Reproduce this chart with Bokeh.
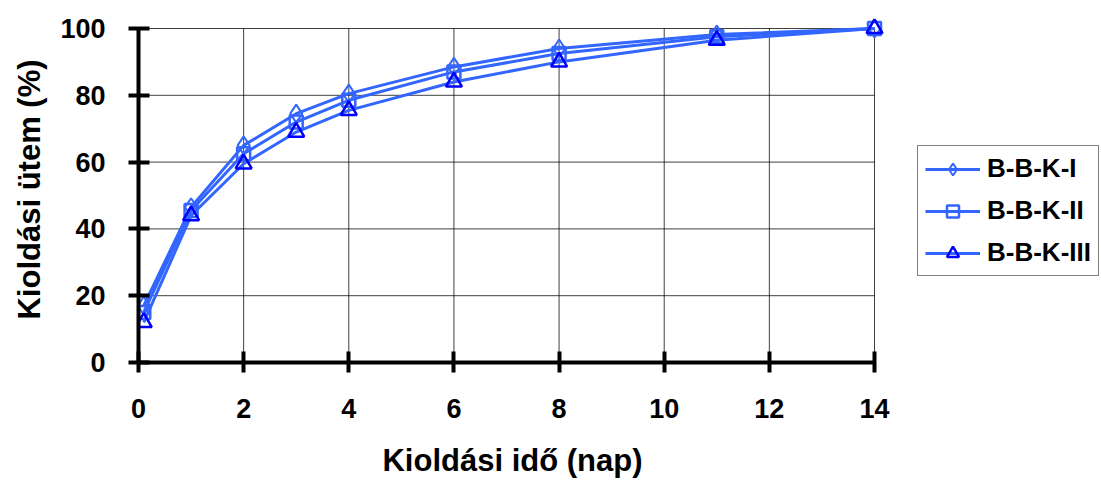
from bokeh.plotting import figure
from bokeh.layouts import row
from bokeh.models import Range1d, FixedTicker, Legend, LegendItem
from bokeh.embed import file_html
from bokeh.resources import INLINE

days = [0.1, 1, 2, 3, 4, 6, 8, 11, 14]
bbk_1 = [17, 46.5, 65, 74.5, 80.5, 88.5, 94, 98.2, 100]
bbk_2 = [15, 45.5, 62.5, 72, 78.5, 87, 92.5, 97.5, 100]
bbk_3 = [12, 44, 59.5, 69, 75.5, 84, 90, 96.5, 100]
series_names = ["B-B-K-I", "B-B-K-II", "B-B-K-III"]
x_ticks = [0, 2, 4, 6, 8, 10, 12, 14]
y_ticks = [0, 20, 40, 60, 80, 100]

FONT = "Liberation Sans"
LINE = "#3366FF"
TRI = "#0000FF"

X_MIN, X_MAX = x_ticks[0], x_ticks[-1]
Y_MIN, Y_MAX = y_ticks[0], y_ticks[-1]
# extra room beyond the last ticks so end markers are not clipped
X_PAD = 12 / (736 / (X_MAX - X_MIN))
Y_PAD = 12 / (334 / (Y_MAX - Y_MIN))

p = figure(width=917, height=484, output_backend="svg", toolbar_location=None,
           x_range=Range1d(X_MIN, X_MAX + X_PAD), y_range=Range1d(Y_MIN, Y_MAX + Y_PAD),
           min_border_left=138, min_border_right=31, min_border_top=16, min_border_bottom=122)
p.outline_line_color = None
p.background_fill_color = "white"
p.xgrid.visible = False
p.ygrid.visible = False

# grid lines limited to the axis extent
p.segment(x0=x_ticks[1:], y0=[Y_MIN] * (len(x_ticks) - 1), x1=x_ticks[1:], y1=[Y_MAX] * (len(x_ticks) - 1),
          line_color="black", line_alpha=0.75, line_width=1)
p.segment(x0=[X_MIN] * (len(y_ticks) - 1), y0=y_ticks[1:], x1=[X_MAX] * (len(y_ticks) - 1), y1=y_ticks[1:],
          line_color="black", line_alpha=0.75, line_width=1)

for ax in (p.xaxis[0], p.yaxis[0]):
    ax.axis_line_width = 4
    ax.axis_line_color = "black"
    ax.major_tick_line_width = 4
    ax.major_tick_line_color = "black"
    ax.major_tick_in = 11
    ax.major_tick_out = 10
    ax.minor_tick_line_color = None
    ax.major_label_text_font = FONT
    ax.major_label_text_font_style = "bold"
    ax.major_label_text_font_size = "27px"
    ax.major_label_text_color = "black"
    ax.axis_label_text_font = FONT
    ax.axis_label_text_font_style = "bold"
    ax.axis_label_text_font_size = "31px"
    ax.axis_label_text_color = "black"

p.xaxis.bounds = (X_MIN, X_MAX)
p.yaxis.bounds = (Y_MIN, Y_MAX)
p.xaxis.ticker = FixedTicker(ticks=x_ticks)
p.yaxis.ticker = FixedTicker(ticks=y_ticks)
p.xaxis.axis_label = "Kioldási idő (nap)"
p.yaxis.axis_label = "Kioldási ütem (%)"
p.xaxis.major_label_standoff = 26
p.yaxis.major_label_standoff = 23
p.xaxis.axis_label_standoff = 22
p.yaxis.axis_label_standoff = 10

styles = [
    dict(marker="diamond", size=18, color=LINE, lw=2),
    dict(marker="square", size=13, color=LINE, lw=2.5),
    dict(marker="triangle", size=16, color=TRI, lw=2.5),
]
series = [bbk_1, bbk_2, bbk_3]

# legend-only figure to the right of the chart
q = figure(width=184, height=484, output_backend="svg", toolbar_location=None,
           x_axis_type=None, y_axis_type=None, x_range=Range1d(0, 1), y_range=Range1d(0, 1),
           min_border=0)
q.outline_line_color = None
q.xgrid.visible = False
q.ygrid.visible = False

items = []
for name, vals, st in zip(series_names, series, styles):
    p.line(days, vals, line_color=LINE, line_width=3)
    p.scatter(days, vals, marker=st["marker"], size=st["size"], fill_alpha=0,
              line_color=st["color"], line_width=st["lw"])
    lr = q.line([-5, -4], [-5, -4], line_color=LINE, line_width=3)
    mr = q.scatter([-5], [-5], marker=st["marker"], size=st["size"] - 2, fill_alpha=0,
                   line_color=st["color"], line_width=st["lw"])
    items.append(LegendItem(label=name, renderers=[lr, mr]))

legend = Legend(items=items, location=(0, 86))
legend.border_line_color = "black"
legend.border_line_width = 1.5
legend.background_fill_color = "white"
legend.label_text_font = FONT
legend.label_text_font_style = "bold"
legend.label_text_font_size = "26px"
legend.label_text_color = "black"
legend.glyph_width = 55
legend.glyph_height = 30
legend.label_height = 30
legend.spacing = 11
legend.padding = 7
legend.margin = 0
legend.label_standoff = 7
q.add_layout(legend, "center")

layout = row(p, q, spacing=0)
open("out.html", "w").write(file_html(layout, INLINE))
